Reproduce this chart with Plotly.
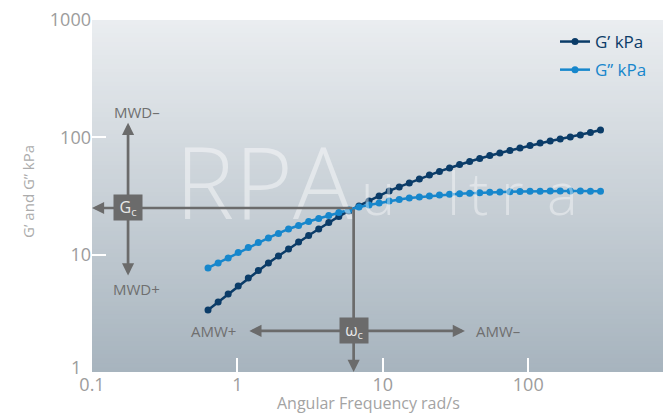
import math
import plotly.graph_objects as go

# ---------------- data ----------------
freq = [0.628, 0.737, 0.864, 1.013, 1.188, 1.393, 1.634, 1.916, 2.247, 2.635,
        3.090, 3.624, 4.250, 4.984, 5.845, 6.855, 8.039, 9.429, 11.06, 12.97,
        15.21, 17.84, 20.92, 24.53, 28.77, 33.74, 39.57, 46.40, 54.42, 63.82,
        74.84, 87.77, 102.9, 120.7, 141.6, 166.0, 194.7, 228.3, 267.8, 314.1]
g_storage = [3.38, 3.95, 4.62, 5.41, 6.33, 7.33, 8.50, 9.75, 11.19, 12.83,
             14.58, 16.56, 18.82, 21.17, 23.58, 26.02, 28.70, 31.65, 34.92, 37.77,
             40.87, 44.19, 47.79, 51.22, 54.83, 58.75, 62.30, 66.08, 70.10, 73.62,
             77.32, 81.22, 85.30, 89.60, 93.19, 96.92, 100.8, 104.8, 110.1, 115.6]
g_loss = [7.70, 8.50, 9.37, 10.44, 11.52, 12.71, 13.88, 15.16, 16.56, 17.74,
          19.19, 20.35, 21.59, 22.89, 24.05, 25.50, 26.52, 27.59, 28.70, 29.55,
          30.43, 31.04, 31.65, 32.28, 32.72, 33.11, 33.44, 33.77, 34.04, 34.23,
          34.44, 34.57, 34.71, 34.78, 34.84, 34.91, 34.91, 34.84, 34.78, 34.64]

series_names = ["G’ kPa", "G’’ kPa"]
x_title = "Angular Frequency rad/s"
y_title = "G’ and G’’ kPa"
x_tick_vals = [0.1, 1, 10, 100]
x_tick_text = ["0.1", "1", "10", "100"]
y_tick_vals = [1, 10, 100, 1000]
y_tick_text = ["", "10", "100", "1000"]   # "1" is placed separately (lifted, as in the source)
y_bottom_label = "1"

# crossover (annotation) values
GC = 25.0          # crossover modulus
WC = 6.3           # crossover frequency
X_MIN, X_MAX = 0.1, 845.0
Y_MIN, Y_MAX = 1.0, 1000.0

# annotation anchor positions (data units)
GBOX_X = 0.177
MWD_TOP, MWD_BOT = 133.0, 6.45
MWD_MINUS_Y, MWD_PLUS_Y = 165.0, 5.1
WBOX_Y = 2.24
AMW_LEFT, AMW_RIGHT = 1.18, 36.7
AMW_PLUS_X, AMW_MINUS_X = 0.68, 62.0

# ---------------- styling ----------------
C_STORAGE = "#0b3c68"
C_LOSS = "#1787cc"
C_ARROW = "#6b6b6b"
C_LABEL = "#6f6f6f"
C_TICK = "#9c9c9c"
FONT = "Open Sans"

W, H = 663, 414
ML, MR, MT, MB = 92, 0, 20, 42
PW, PH = W - ML - MR, H - MT - MB


def px_x(px):                # screen px -> paper
    return (px - ML) / PW


def px_y(py):
    return (H - MB - py) / PH


L = math.log10

fig = go.Figure()
fig.add_trace(go.Scatter(
    x=freq, y=g_storage, mode="lines+markers", name=f"<span style='color:{C_STORAGE}'>{series_names[0]}</span>",
    line=dict(color=C_STORAGE, width=2.5), marker=dict(color=C_STORAGE, size=7),
    legendgroup="a"))
fig.add_trace(go.Scatter(
    x=freq, y=g_loss, mode="lines+markers", name=f"<span style='color:{C_LOSS}'>{series_names[1]}</span>",
    line=dict(color=C_LOSS, width=2.5), marker=dict(color=C_LOSS, size=7),
    legendgroup="b"))

# background gradient of the plot area
shapes = []
N = 80
top = (234, 237, 240)
bot = (167, 180, 190)
for i in range(N):
    t = i / (N - 1)
    c = tuple(round(top[k] + (bot[k] - top[k]) * t) for k in range(3))
    shapes.append(dict(type="rect", xref="paper", yref="paper", x0=0, x1=1,
                       y0=max(0, 1 - (i + 1) / N - 0.002), y1=1 - i / N, layer="below",
                       line=dict(width=0), fillcolor=f"rgb{c}"))

ann = []
# watermark
ann.append(dict(text="RPA", x=px_x(264), y=px_y(180), xref="paper", yref="paper",
                xanchor="center", yanchor="middle",
                showarrow=False, font=dict(family=FONT, size=100, color="rgba(255,255,255,0.45)", weight=300)))
for ch, cx in [("u", 378), ("l", 453), ("t", 478), ("r", 512), ("a", 562)]:
    ann.append(dict(text=ch, x=px_x(cx), y=px_y(192), xref="paper", yref="paper",
                    xanchor="center", yanchor="middle",
                    showarrow=False, font=dict(family=FONT, size=58, color="rgba(255,255,255,0.4)", weight=300)))


def arrow(xt, yt, xs, ys, both=False):
    return dict(x=L(xt), y=L(yt), ax=L(xs), ay=L(ys), xref="x", yref="y", axref="x", ayref="y",
                text="", showarrow=True, arrowhead=2, arrowsize=0.9, arrowwidth=2.7,
                arrowcolor=C_ARROW, arrowside="end+start" if both else "end",
                startarrowhead=2, startarrowsize=0.9, standoff=0, startstandoff=0)


ann.append(arrow(X_MIN, GC, WC, GC))
ann.append(arrow(WC, Y_MIN, WC, GC))
ann.append(arrow(GBOX_X, MWD_TOP, GBOX_X, MWD_BOT, both=True))
ann.append(arrow(AMW_RIGHT, WBOX_Y, AMW_LEFT, WBOX_Y, both=True))

for txt, xv, yv in [("MWD–", GBOX_X * 1.15, MWD_MINUS_Y), ("MWD+", GBOX_X * 1.15, MWD_PLUS_Y),
                    ("AMW+", AMW_PLUS_X, WBOX_Y), ("AMW–", AMW_MINUS_X, WBOX_Y)]:
    ann.append(dict(text=txt, x=L(xv), y=L(yv), xref="x", yref="y", showarrow=False,
                    xanchor="center", yanchor="middle",
                    font=dict(family=FONT, size=15, color=C_LABEL)))

for txt, xv, yv in [("G<sub>c</sub>", GBOX_X, GC), ("ω<sub>c</sub>", WC, WBOX_Y)]:
    ann.append(dict(text=txt, x=L(xv), y=L(yv), xref="x", yref="y", showarrow=False,
                    xanchor="center", yanchor="middle",
                    bgcolor=C_ARROW, width=28, height=25, borderpad=0,
                    font=dict(family=FONT, size=16, color="#e8e8e8")))

# lifted bottom y tick label
ann.append(dict(text=y_bottom_label, x=0, y=px_y(367), xref="paper", yref="paper",
                xanchor="right", yanchor="middle", xshift=-9, showarrow=False,
                font=dict(family=FONT, size=18, color=C_TICK)))
# axis titles
ann.append(dict(text=x_title, x=px_x(368), y=px_y(403), xref="paper", yref="paper",
                xanchor="center", yanchor="middle", showarrow=False,
                font=dict(family=FONT, size=16, color="#a3a3a3")))
ann.append(dict(text=y_title, x=px_x(28), y=px_y(192), xref="paper", yref="paper",
                xanchor="center", yanchor="middle", showarrow=False, textangle=-90,
                font=dict(family=FONT, size=15, color="#acacac")))

fig.update_layout(
    width=W, height=H, margin=dict(l=ML, r=MR, t=MT, b=MB, autoexpand=False),
    paper_bgcolor="white", plot_bgcolor="rgba(0,0,0,0)",
    font=dict(family=FONT, color="#9a9a9a"),
    shapes=shapes, annotations=ann,
    showlegend=True,
    legend=dict(x=px_x(555), y=px_y(24), xanchor="left", yanchor="top",
                bgcolor="rgba(0,0,0,0)", font=dict(size=17, family=FONT),
                tracegroupgap=3, itemwidth=30),
    xaxis=dict(type="log", range=[L(X_MIN), L(X_MAX)], tickvals=x_tick_vals, ticktext=x_tick_text,
               ticks="inside", ticklen=14, tickwidth=2, tickcolor="white", automargin=False,
               showgrid=False, zeroline=False, showline=False, ticklabeloverflow="allow",
               tickfont=dict(size=18, color=C_TICK)),
    yaxis=dict(type="log", range=[L(Y_MIN), L(Y_MAX)], tickvals=y_tick_vals, ticktext=y_tick_text,
               ticks="inside", ticklen=14, tickwidth=2, tickcolor="white", automargin=False,
               showgrid=False, zeroline=False, showline=False, ticklabeloverflow="allow",
               tickfont=dict(size=18, color=C_TICK)),
)

fig.write_html("out.html", config={"displayModeBar": False},
               post_script="document.body.style.margin='0';"
                           "document.documentElement.style.overflow='hidden';"
                           "document.body.style.overflow='hidden';")
